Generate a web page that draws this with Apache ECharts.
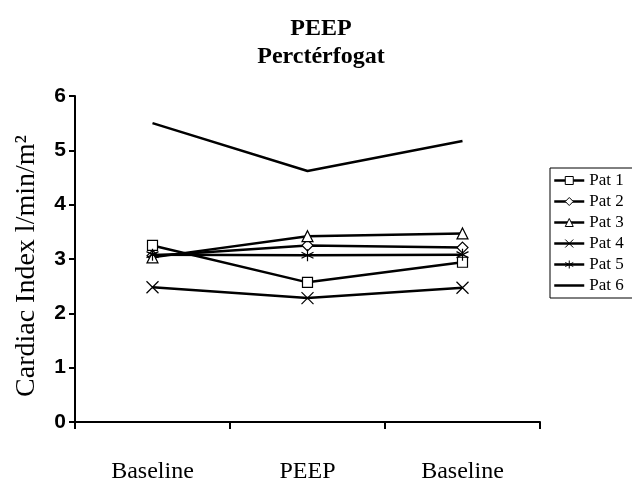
<!DOCTYPE html>
<html><head><meta charset="utf-8">
<script src="https://cdn.jsdelivr.net/npm/echarts@6/dist/echarts.min.js"></script>
<style>html,body{margin:0;padding:0;background:#fff}#c{width:632px;height:489px}</style>
</head><body><div id="c"></div>
<script>
const categories = ['Baseline', 'PEEP', 'Baseline '];
const seriesNames = ['Pat 1', 'Pat 2', 'Pat 3', 'Pat 4', 'Pat 5', 'Pat 6'];
const pat1 = [3.25, 2.57, 2.94];
const pat2 = [3.06, 3.25, 3.21];
const pat3 = [3.03, 3.42, 3.47];
const pat4 = [2.48, 2.28, 2.47];
const pat5 = [3.08, 3.07, 3.08];
const pat6 = [5.50, 4.62, 5.17];
const yTicks = [0, 1, 2, 3, 4, 5, 6];
const yTitle = 'Cardiac Index l/min/m²';
const titleLines = ['PEEP', 'Perctérfogat'];

const X_PATH = 'path://M0,0L10,10M10,0L0,10';
const AST_PATH = 'path://M5,0L5,10M0,2.5L10,7.5M0,7.5L10,2.5';
const symbols = ['rect', 'diamond', 'triangle', X_PATH, AST_PATH, 'circle'];
const sizes = [10, 11, 11, 12, 12, 0];
const data = [pat1, pat2, pat3, pat4, pat5, pat6];

const chart = echarts.init(document.getElementById('c'), null, {renderer: 'canvas'});
const serif = 'Liberation Serif';
chart.setOption({
  animation: false,
  backgroundColor: '#fff',
  title: {
    text: titleLines.join('\n'),
    left: 316, top: 10, textAlign: 'center',
    textStyle: {fontFamily: serif, fontWeight: 'bold', fontSize: 24, lineHeight: 28, color: '#000'}
  },
  legend: {
    orient: 'vertical', left: 550, top: 168,
    data: seriesNames.map((n, i) => i === 5 ? {name: n, itemStyle: {opacity: 0}} : n),
    itemWidth: 30, itemHeight: 10, itemGap: 4,
    padding: [4, 40, 4, 3],
    borderColor: '#000', borderWidth: 1,
    textStyle: {fontFamily: serif, fontSize: 17, color: '#000'},
    itemStyle: {color: '#fff', borderColor: '#000', borderWidth: 1},
    lineStyle: {color: '#000', width: 2.5}
  },
  grid: {left: 75, right: 92, top: 96, bottom: 67, containLabel: false},
  xAxis: {
    type: 'category', data: categories, boundaryGap: true,
    axisLine: {lineStyle: {color: '#000', width: 2}},
    axisTick: {show: true, length: 7, lineStyle: {color: '#000', width: 2}},
    axisLabel: {fontFamily: serif, fontSize: 24, color: '#000', margin: 38,
      formatter: v => v.trim()},
    splitLine: {show: false}
  },
  yAxis: {
    type: 'value', min: yTicks[0], max: yTicks[yTicks.length - 1], interval: 1,
    axisLine: {show: true, lineStyle: {color: '#000', width: 2}},
    axisTick: {show: true, length: 6, lineStyle: {color: '#000', width: 2}},
    axisLabel: {fontFamily: 'Liberation Sans', fontWeight: 'bold', fontSize: 21, color: '#000', margin: 9},
    splitLine: {show: false}
  },
  graphic: [{
    type: 'text', x: 27, y: 266, rotation: Math.PI / 2,
    style: {text: yTitle, fontFamily: serif, fontSize: 28, fill: '#000', align: 'center', verticalAlign: 'middle'}
  }],
  series: seriesNames.map((n, i) => ({
    name: n, type: 'line', data: data[i],
    symbol: symbols[i], symbolSize: sizes[i], showSymbol: i < 5,
    lineStyle: {color: '#000', width: 2.5},
    itemStyle: {color: '#fff', borderColor: '#000', borderWidth: 1.2},
    emphasis: {disabled: true},
    z: 2 + i
  }))
});
</script></body></html>
